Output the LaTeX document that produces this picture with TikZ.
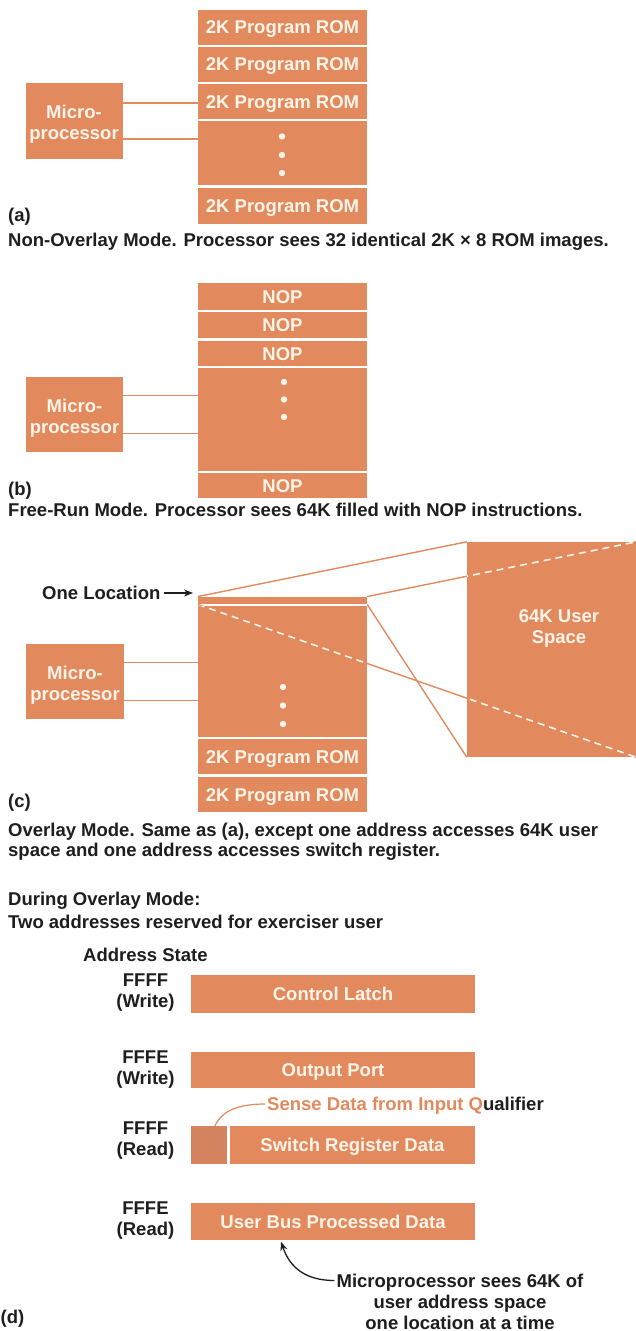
\documentclass[tikz,border=0pt]{standalone}
\usepackage{fontspec}
\setmainfont{Liberation Sans}
\usetikzlibrary{arrows.meta}
\definecolor{orng}{HTML}{E28A5E}
\definecolor{orngd}{HTML}{D4845F}
\definecolor{cream}{HTML}{FFF4E8}
\definecolor{ink}{HTML}{1E1E1E}
\begin{document}
\begin{tikzpicture}[x=1pt,y=-1pt,
  every node/.style={font=\bfseries\fontsize{18.5}{21}\selectfont, inner sep=0pt, text=ink},
  one/.style={text height=13pt, text depth=0pt},
  blk/.style={fill=orng, text=cream, minimum width=169pt},
  rom/.style={blk, one},
  wide/.style={fill=orng, text=cream, one, minimum width=284pt},
  mp/.style={fill=orng, minimum width=97pt, minimum height=76pt},
  mptxt/.style={text=cream, align=center, yshift=-3.5pt},
  wire/.style={draw=orng, line width=1.4pt},
  wdash/.style={draw=cream, line width=1.6pt, dash pattern=on 7pt off 5pt},
  dotw/.style={fill=cream},
  captxt/.style={one, anchor=west},
  addr/.style={align=center},
  pointer/.style={draw=ink, line width=1.3pt, -{Stealth[length=9pt,width=7pt]}}
]
\useasboundingbox[fill=white] (0,0) rectangle (636,1331);

% ---------------- (a)
\node[rom, minimum height=35pt] (a1) at (282.5,27) {2K Program ROM};
\node[rom, minimum height=35pt] (a2) at (282.5,64) {2K Program ROM};
\node[rom, minimum height=35pt] (a3) at (282.5,101.5) {2K Program ROM};
\node[blk, minimum height=64pt] (ad) at (282.5,153) {};
\node[rom, minimum height=36pt] (a4) at (282.5,206) {2K Program ROM};
\fill[dotw] (282,136.5) circle (3.2) (282,155) circle (3.2) (282,173) circle (3.2);
\node[mp] (ma) at (74,121) {};
\node[mptxt] (mat) at (ma) {Micro-\\processor};
\draw[wire] ([yshift=18pt]ma.east) -- ([yshift=18pt]ma.east -| a3.west);
\draw[wire] ([yshift=-18pt]ma.east) -- ([yshift=-18pt]ma.east -| ad.west);
\node[captxt] (la) at (8,215) {(a)};
\node[captxt] (ca) at (8,240) {Non-Overlay Mode. Processor sees 32 identical 2K × 8 ROM images.};

% ---------------- (b)
\node[rom, minimum height=27pt] (b1) at (282.5,296.5) {NOP};
\node[rom, minimum height=26pt] (b2) at (282.5,325) {NOP};
\node[rom, minimum height=25pt] (b3) at (282.5,353.5) {NOP};
\node[blk, minimum height=103pt] (bd) at (282.5,419.5) {};
\node[rom, minimum height=25pt] (b4) at (282.5,485.5) {NOP};
\fill[dotw] (284,382) circle (3.2) (284,399.5) circle (3.2) (284,417) circle (3.2);
\node[mp, minimum height=75pt] (mb) at (74.5,414.5) {};
\node[mptxt] (mbt) at (mb) {Micro-\\processor};
\draw[wire] ([yshift=19pt]mb.east) -- ([yshift=19pt]mb.east -| bd.west);
\draw[wire] ([yshift=-19pt]mb.east) -- ([yshift=-19pt]mb.east -| bd.west);
\node[captxt] (lb) at (8,489) {(b)};
\node[captxt] (cb1) at (8,510) {Free-Run Mode. Processor sees 64K filled with NOP instructions.};

% ---------------- (c)
\node[blk, minimum height=7.5pt] (cs) at (282.5,600.5) {};
\node[blk, minimum height=131pt] (cb) at (282.5,671.5) {};
\node[rom, minimum height=35pt] (c1) at (282.5,756.5) {2K Program ROM};
\node[rom, minimum height=35pt] (c2) at (282.5,794.5) {2K Program ROM};
\node[blk, minimum height=215pt] (u) at (551.5,649.5) {};
\node[addr, text=cream] (ut) at (559,628) {64K User\\Space};
\draw[wire] (cs.north west) -- (u.north west);
\draw[wire] (cs.north east) -- (u.north east);
\draw[wire] (cs.south east) -- (u.south west);
\draw[wire] (cs.south west) -- (u.south east);
\begin{scope}
  \clip (cb.north west) rectangle (cb.south east) (u.north west) rectangle (u.south east);
  \draw[wdash] (cs.north east) -- (u.north east);
  \draw[wdash] (cs.south west) -- (u.south east);
\end{scope}
\fill[dotw] (283,687) circle (3.2) (283,705.5) circle (3.2) (283,724) circle (3.2);
\node[mp, minimum width=98pt, minimum height=75pt] (mc) at (75,681.5) {};
\node[mptxt] (mct) at (mc) {Micro-\\processor};
\draw[wire] ([yshift=19pt]mc.east) -- ([yshift=19pt]mc.east -| cb.west);
\draw[wire] ([yshift=-19pt]mc.east) -- ([yshift=-19pt]mc.east -| cb.west);
\node[captxt] (ol) at (42,593) {One Location};
\coordinate (olt) at (193,593);
\draw[pointer, line width=1.2pt] ([xshift=3pt]ol.east) -- (olt);
\node[captxt] (lc) at (8,801) {(c)};
\node[captxt] (cc1) at (8,830) {Overlay Mode. Same as (a), except one address accesses 64K user};
\node[captxt] (cc2) at (8,850) {space and one address accesses switch register.};

% ---------------- (d)
\node[captxt] (dh1) at (8,899) {During Overlay Mode:};
\node[captxt] (dh2) at (8,922) {Two addresses reserved for exerciser user};
\node[captxt] (as) at (83,955) {Address State};

\node[addr] (l1) at (145.5,993) {FFFF\\(Write)};
\node[wide, minimum height=38pt] (cl) at (333,994) {Control Latch};
\node[addr] (l2) at (145.5,1070) {FFFE\\(Write)};
\node[wide, minimum height=36pt] (op) at (333,1070) {Output Port};
\node[addr] (l3) at (145.5,1141) {FFFF\\(Read)};
\node[fill=orngd, minimum width=36pt, minimum height=38pt] (ss) at (209,1145) {};
\node[fill=orng, text=cream, one, minimum width=245pt, minimum height=38pt] (sw) at (352.5,1145) {Switch Register Data};
\node[captxt] (sd) at (267,1104) {\textcolor{orng}{Sense Data from Input Q}ualifier};
\draw[wire, line width=1.2pt] ([xshift=-2pt]sd.west) .. controls (240,1104) and (222,1110) .. ([xshift=6pt]ss.north);
\node[addr] (l4) at (145.5,1221) {FFFE\\(Read)};
\node[wide, minimum height=37pt] (ub) at (333,1221.5) {User Bus Processed Data};
\node[addr] (mt) at (460,1301.5) {Microprocessor sees 64K of\\user address space\\one location at a time};
\draw[pointer] ([xshift=-2pt,yshift=21pt]mt.west) .. controls (306,1280.5) and (290,1268) .. ([xshift=-52pt,yshift=-1.5pt]ub.south);
\node[captxt] (ld) at (0.5,1317) {(d)};
\end{tikzpicture}
\end{document}
